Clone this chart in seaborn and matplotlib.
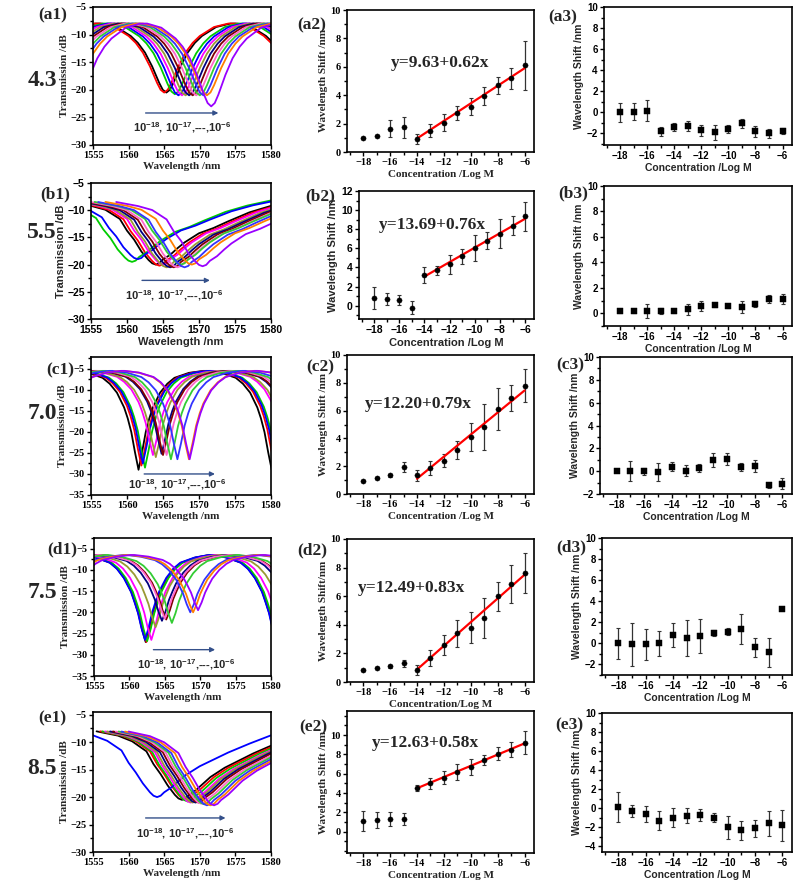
import numpy as np
import seaborn as sns
import matplotlib.pyplot as plt
from matplotlib.ticker import MultipleLocator

# ---------------- data ----------------
conc = [-18, -17, -16, -15, -14, -13, -12, -11, -10, -9, -8, -7, -6]
fit_x = [-14, -6]

# column 2: wavelength shift vs concentration (with linear fit)
a2_shift = [1.0, 1.15, 1.65, 1.75, 0.9, 1.5, 2.05, 2.75, 3.2, 3.95, 4.7, 5.2, 6.1]
a2_err = [0.05, 0.05, 0.6, 0.75, 0.35, 0.45, 0.6, 0.5, 0.6, 0.65, 0.6, 0.75, 1.7]
a2_fit = [0.95, 5.9]
b2_shift = [0.8, 0.7, 0.6, -0.2, 3.2, 3.7, 4.35, 5.15, 6.05, 6.8, 7.55, 8.35, 9.35]
b2_err = [1.2, 0.6, 0.5, 0.7, 0.8, 0.5, 1.0, 0.8, 1.35, 0.9, 1.55, 1.0, 1.5]
b2_fit = [3.05, 9.1]
c2_shift = [0.95, 1.15, 1.35, 1.95, 1.35, 1.85, 2.4, 3.15, 4.1, 4.85, 6.1, 6.9, 7.8]
c2_err = [0.05, 0.05, 0.1, 0.35, 0.4, 0.5, 0.45, 0.65, 1.0, 1.65, 1.5, 0.95, 1.2]
c2_fit = [1.1, 7.45]
d2_shift = [0.85, 1.0, 1.1, 1.3, 0.85, 1.7, 2.6, 3.4, 3.8, 4.5, 6.0, 6.85, 7.6]
d2_err = [0.05, 0.05, 0.1, 0.25, 0.35, 0.55, 0.7, 0.95, 1.1, 1.4, 1.0, 1.3, 1.4]
d2_fit = [0.87, 7.5]
e2_shift = [1.1, 1.2, 1.3, 1.3, 4.5, 5.0, 5.6, 6.2, 6.7, 7.4, 8.1, 8.5, 9.2]
e2_err = [1.0, 0.8, 0.7, 0.6, 0.3, 0.6, 0.7, 0.8, 0.8, 0.5, 0.7, 0.8, 1.2]
e2_fit = [4.5, 9.15]
equations = ['y=9.63+0.62x', 'y=13.69+0.76x', 'y=12.20+0.79x', 'y=12.49+0.83x', 'y=12.63+0.58x']

# column 3: control wavelength shift
a3_shift = [0.0, 0.05, 0.15, -1.8, -1.4, -1.3, -1.7, -1.9, -1.6, -1.05, -1.8, -2.0, -1.8]
a3_err = [0.9, 0.8, 1.0, 0.4, 0.35, 0.5, 0.5, 0.7, 0.4, 0.45, 0.55, 0.4, 0.3]
b3_shift = [0.2, 0.2, 0.2, 0.2, 0.15, 0.3, 0.6, 0.65, 0.6, 0.5, 0.75, 1.1, 1.15]
b3_err = [0.15, 0.15, 0.55, 0.25, 0.1, 0.45, 0.4, 0.15, 0.15, 0.5, 0.25, 0.3, 0.4]
c3_shift = [0.0, 0.0, 0.0, -0.05, 0.4, 0.05, 0.3, 1.0, 1.05, 0.4, 0.45, -1.25, -1.1]
c3_err = [0.1, 0.85, 0.3, 0.8, 0.4, 0.5, 0.35, 0.6, 0.5, 0.35, 0.55, 0.25, 0.5]
d3_shift = [0.0, -0.1, -0.1, 0.0, 0.8, 0.55, 0.7, 1.0, 1.1, 1.35, -0.35, -0.85, 3.3]
d3_err = [1.5, 2.0, 1.5, 1.2, 1.1, 1.7, 1.6, 0.3, 0.35, 1.4, 0.9, 1.4, 0.15]
e3_shift = [0.1, -0.3, -0.6, -1.3, -1.0, -0.8, -0.7, -1.0, -2.0, -2.3, -2.1, -1.6, -1.8]
e3_err = [1.6, 0.6, 0.8, 1.0, 1.0, 0.8, 0.6, 0.5, 1.2, 1.0, 0.9, 1.3, 1.6]

# column 1: transmission spectra, one dip per concentration (10^-18 ... 10^-6)
notch_off = [-9, -7, -5, -4, -3, -2, -1.5, -1, -0.5, 0, 0.5, 1, 1.5, 2, 3, 4, 5, 7, 9]
a1_shape = [0, 0.05, 0.18, 0.28, 0.42, 0.62, 0.74, 0.86, 0.96, 1, 0.96, 0.86, 0.74, 0.62, 0.42, 0.28, 0.18, 0.05, 0]
c1_shape = [0, 0.02, 0.07, 0.13, 0.22, 0.37, 0.48, 0.62, 0.82, 1, 0.82, 0.62, 0.48, 0.37, 0.22, 0.13, 0.07, 0.02, 0]
d1_shape = [0, 0.03, 0.09, 0.16, 0.27, 0.43, 0.55, 0.68, 0.86, 1, 0.86, 0.68, 0.55, 0.43, 0.27, 0.16, 0.09, 0.03, 0]
asym_off = [-12, -9, -7, -5, -4, -3, -2, -1, -0.5, 0, 0.5, 1, 2, 3, 4, 6, 8, 10, 13, 16, 20]
b1_shape = [0.04, 0.1, 0.16, 0.3, 0.48, 0.62, 0.8, 0.93, 0.98, 1, 0.98, 0.92, 0.85, 0.75, 0.66, 0.52, 0.44, 0.34, 0.2, 0.1, 0]
e1_shape = [0.04, 0.1, 0.18, 0.32, 0.5, 0.64, 0.8, 0.93, 0.98, 1, 0.98, 0.93, 0.86, 0.77, 0.68, 0.55, 0.45, 0.35, 0.22, 0.1, 0]

a1_dip_nm = [1565.3, 1565.0, 1566.5, 1567.0, 1567.5, 1568.0, 1568.5, 1569.0, 1569.5, 1570.0, 1570.5, 1571.0, 1571.6]
a1_dip_db = [-20.5, -20.5, -20.8, -21.0, -21.0, -21.0, -21.0, -21.0, -21.0, -21.0, -21.0, -21.0, -23.0]
b1_dip_nm = [1564.0, 1564.5, 1560.7, 1561.5, 1565.0, 1565.5, 1566.0, 1566.5, 1567.0, 1567.5, 1568.0, 1569.0, 1570.5]
b1_dip_db = [-20.0, -20.2, -19.5, -19.0, -20.0, -20.5, -20.5, -20.5, -20.5, -20.0, -20.5, -20.0, -20.3]
c1_dip_nm = [1561.6, 1562.0, 1562.5, 1562.2, 1563.6, 1564.0, 1564.8, 1565.0, 1565.5, 1566.1, 1567.0, 1568.6, 1568.7]
c1_dip_db = [-29.0, -28.0, -28.5, -27.5, -25.5, -26.0, -25.2, -25.5, -25.5, -26.5, -26.5, -26.5, -26.5]
d1_dip_nm = [1562.3, 1562.4, 1562.5, 1562.2, 1563.1, 1563.7, 1564.6, 1565.2, 1565.0, 1566.0, 1568.6, 1569.0, 1569.7]
d1_dip_db = [-27.0, -27.0, -26.8, -26.5, -26.5, -23.5, -22.0, -21.7, -21.5, -22.5, -20.0, -20.0, -19.5]
e1_dip_nm = [1567.5, 1568.0, 1568.3, 1564.0, 1568.7, 1569.0, 1569.4, 1569.8, 1570.2, 1570.6, 1571.0, 1571.5, 1572.0]
e1_dip_db = [-20.5, -20.5, -20.8, -20.0, -21.0, -21.0, -21.0, -21.0, -21.2, -21.3, -21.5, -21.5, -21.5]
peak_db = {'a1': -8.0, 'b1': -8.0, 'c1': -5.5, 'd1': -6.5, 'e1': -7.5}
fsr_nm = {'a1': 19.0, 'c1': 18.5, 'd1': 18.5}

row_ph = ['4.3', '5.5', '7.0', '7.5', '8.5']
range_txt = r'$10^{-18}$, $10^{-17}$,---,$10^{-6}$'

curve_colors = ['#000000', '#FF0000', '#00CC00', '#0000FF', '#FF00FF', '#999933', '#000080',
                '#800000', '#FF66CC', '#33CC33', '#3333FF', '#FF8000', '#9900FF']

# ---------------- style ----------------
sns.set_theme(style='ticks')
plt.rcParams['font.family'] = ['Liberation Serif', 'DejaVu Serif']
SERIF = ['Liberation Serif', 'DejaVu Serif']
SANS = ['Liberation Sans', 'DejaVu Sans']
plt.rcParams.update({'axes.linewidth': 1.2, 'xtick.major.width': 1.0, 'ytick.major.width': 1.0,
                     'xtick.major.size': 3, 'ytick.major.size': 3, 'ytick.minor.size': 2,
                     'xtick.minor.size': 2, 'xtick.direction': 'out', 'ytick.direction': 'out',
                     'axes.edgecolor': 'black', 'xtick.color': 'black', 'ytick.color': 'black',
                     'mathtext.fontset': 'custom', 'mathtext.rm': 'Liberation Sans:bold',
                     'mathtext.it': 'Liberation Sans:bold', 'mathtext.bf': 'Liberation Sans:bold'})

W, H = 795, 883
fig = plt.figure(figsize=(W / 100, H / 100), dpi=100)


def box(l, t, r, b):
    return fig.add_axes([l / W, 1 - b / H, (r - l) / W, (b - t) / H])


def style_ticks(ax, fam, size):
    for lab in ax.get_xticklabels() + ax.get_yticklabels():
        lab.set_fontfamily(fam)
        lab.set_fontweight('bold')
        lab.set_fontsize(size)
    ax.tick_params(pad=1.5)


spec_boxes = [(93, 7, 271, 145), (91, 183, 271, 319), (91, 357, 271, 495), (94, 538, 271, 676), (93, 712, 271, 852)]
fit_boxes = [(347, 10, 534, 152), (359, 191, 534, 319), (347, 355, 534, 494), (347, 539, 534, 682), (347, 711, 534, 853)]
ctrl_boxes = [(604, 7, 792, 145), (604, 186, 792, 326), (600, 357, 792, 494), (602, 538, 792, 675), (602, 713, 792, 852)]

spectra = [('a1', a1_dip_nm, a1_dip_db, notch_off, a1_shape),
           ('b1', b1_dip_nm, b1_dip_db, asym_off, b1_shape),
           ('c1', c1_dip_nm, c1_dip_db, notch_off, c1_shape),
           ('d1', d1_dip_nm, d1_dip_db, notch_off, d1_shape),
           ('e1', e1_dip_nm, e1_dip_db, asym_off, e1_shape)]
spec_ylim = [(-30, -5), (-30, -5), (-35, -2.2), (-35, -2.5), (-30, -4.5)]
spec_fam = [SERIF, SANS, SERIF, SERIF, SERIF]
# arrow (x0, x1, y) and label y, label x
spec_arrow = [(1562, 1573, -24.2, -26.8, 1567.5), (1561.7, 1571.9, -22.9, -25.7, 1566.5),
              (1562, 1572.6, -30.0, -32.5, 1567.0), (1563, 1572.5, -28.8, -32.4, 1568.0),
              (1562, 1574, -23.8, -26.6, 1568.0)]

for i, (name, dips, mins, off, shape) in enumerate(spectra):
    ax = box(*spec_boxes[i])
    off = np.array(off)
    shape = np.array(shape)
    top = peak_db[name]
    for k, (wl, mn) in enumerate(zip(dips, mins)):
        if name in fsr_nm:
            f = fsr_nm[name]
            xs = np.concatenate([off - f, off, off + f]) + wl
            ys = np.tile(shape, 3)
        else:
            xs = off + wl
            ys = shape
        sns.lineplot(x=xs, y=top + (mn - top) * ys, color=curve_colors[k], lw=1.3,
                     ax=ax, estimator=None, sort=False)
    ax.set_xlim(1555, 1580)
    ax.set_ylim(*spec_ylim[i])
    ax.xaxis.set_major_locator(MultipleLocator(5))
    ax.yaxis.set_major_locator(MultipleLocator(5))
    ax.yaxis.set_minor_locator(MultipleLocator(2.5))
    fam = spec_fam[i]
    style_ticks(ax, fam, 7.5)
    ax.set_xlabel('Wavelength /nm', fontfamily=fam, fontweight='bold', fontsize=8, labelpad=1)
    ax.set_ylabel('Transmission /dB', fontfamily=fam, fontweight='bold', fontsize=8, labelpad=1)
    x0, x1, ya, yt, xt = spec_arrow[i]
    ax.annotate('', xy=(x1, ya), xytext=(x0, ya),
                arrowprops=dict(arrowstyle='-|>', color='#34508a', lw=1.0, mutation_scale=7))
    ax.text(xt, yt, range_txt, ha='center', va='center', fontsize=8, fontweight='bold',
            fontfamily=SANS)

fits = [(a2_shift, a2_err, a2_fit), (b2_shift, b2_err, b2_fit), (c2_shift, c2_err, c2_fit),
        (d2_shift, d2_err, d2_fit), (e2_shift, e2_err, e2_fit)]
fit_ylim = [(0, 10), (-1.4, 12), (0, 10), (0, 10), (-2.2, 12.5)]
fit_fam = [SERIF, SANS, SERIF, SERIF, SERIF]
eq_pos = [(-12.3, 6.3), (-13.4, 8.4), (-13.9, 6.5), (-14.4, 6.6), (-13.4, 9.2)]

for i, (ys, err, fy) in enumerate(fits):
    ax = box(*fit_boxes[i])
    ax.errorbar(conc, ys, yerr=err, fmt='none', ecolor='#333333', elinewidth=0.9, capsize=1.5, capthick=0.8)
    sns.scatterplot(x=conc, y=ys, marker='o', s=14, color='black', edgecolor='black', ax=ax, zorder=3)
    sns.lineplot(x=fit_x, y=fy, color='red', lw=1.6, ax=ax)
    ax.set_xlim(-19.2, -5.3)
    ax.set_ylim(*fit_ylim[i])
    ax.xaxis.set_major_locator(MultipleLocator(2))
    ax.xaxis.set_minor_locator(MultipleLocator(1))
    ax.yaxis.set_major_locator(MultipleLocator(2))
    ax.yaxis.set_minor_locator(MultipleLocator(1))
    if i == 4:
        ax.set_yticks([0, 2, 4, 6, 8, 10])
    fam = fit_fam[i]
    style_ticks(ax, fam, 7.5)
    sep = '' if i == 3 else ' '
    ax.set_xlabel('Concentration' + sep + '/Log M', fontfamily=fam, fontweight='bold', fontsize=8, labelpad=2)
    ax.set_ylabel('Wavelength Shift' + sep + '/nm', fontfamily=fam, fontweight='bold', fontsize=8, labelpad=2)
    ax.text(*eq_pos[i], equations[i], ha='center', va='center', fontsize=12.5,
            fontweight='bold', fontfamily=SERIF)

ctrls = [(a3_shift, a3_err), (b3_shift, b3_err), (c3_shift, c3_err), (d3_shift, d3_err), (e3_shift, e3_err)]
ctrl_ylim = [(-3.1, 10), (-1, 10), (-2, 10), (-3, 10), (-4.6, 10)]

for i, (ys, err) in enumerate(ctrls):
    ax = box(*ctrl_boxes[i])
    ax.errorbar(conc, ys, yerr=err, fmt='none', ecolor='#333333', elinewidth=0.9, capsize=1.5, capthick=0.8)
    sns.scatterplot(x=conc, y=ys, marker='s', s=16, color='black', edgecolor='black', ax=ax, zorder=3)
    ax.set_xlim(-19.2, -5.3)
    ax.set_ylim(*ctrl_ylim[i])
    ax.xaxis.set_major_locator(MultipleLocator(2))
    ax.xaxis.set_minor_locator(MultipleLocator(1))
    ax.yaxis.set_major_locator(MultipleLocator(2))
    ax.yaxis.set_minor_locator(MultipleLocator(1))
    style_ticks(ax, SANS, 7)
    ax.set_xlabel('Concentration /Log M', fontfamily=SANS, fontweight='bold', fontsize=7.5, labelpad=1)
    ax.set_ylabel('Wavelength Shift /nm', fontfamily=SANS, fontweight='bold', fontsize=7.5, labelpad=2)

# panel and row labels (figure pixels)
panel_pos = {'a1': (53, 15), 'a2': (312, 25), 'a3': (563, 17),
             'b1': (55, 194), 'b2': (320, 196), 'b3': (573, 193),
             'c1': (60, 370), 'c2': (320, 367), 'c3': (570, 365),
             'd1': (62, 549), 'd2': (312, 550), 'd3': (571, 547),
             'e1': (52, 718), 'e2': (313, 727), 'e3': (569, 725)}
for name, (px, py) in panel_pos.items():
    fig.text(px / W, 1 - py / H, '(' + name + ')', ha='center', va='center',
             fontsize=12.5, fontweight='bold', fontfamily=SERIF)

row_y = [80, 232, 414, 593, 768]
for lab, py in zip(row_ph, row_y):
    fig.text(42 / W, 1 - py / H, lab, ha='center', va='center', fontsize=17,
             fontweight='bold', fontfamily=SERIF)

fig.savefig('out.png', dpi=100)
